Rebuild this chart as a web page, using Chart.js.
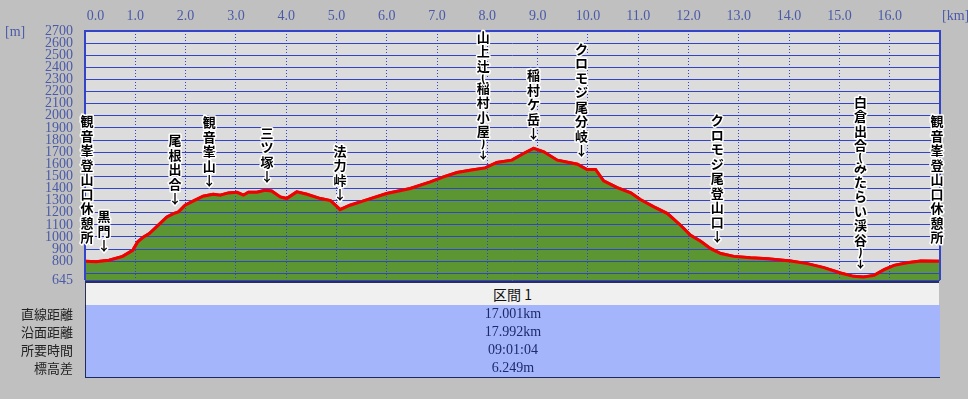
<!DOCTYPE html>
<html>
<head>
<meta charset="utf-8">
<script src="https://cdn.jsdelivr.net/npm/chart.js@4"></script>
<style>
  body { margin: 0; background: #c0c0c0; width: 968px; height: 399px; overflow: hidden; position: relative; }
  #profile { position: absolute; left: 0; top: 0; }
  .unit { position: absolute; font: 14px "Liberation Serif"; color: #4a5aa8; }
  .hdr { position: absolute; left: 85px; top: 281px; width: 853px; height: 22px; background: #f0f0f0;
         border-top: 2px solid #2a3058; border-left: 1px solid #2a3058; border-bottom: 1px solid #8a8a8a;
         text-align: center; font: 14px "Noto Sans CJK JP"; line-height: 22px; color: #111; }
  .rows { position: absolute; left: 85px; top: 305px; width: 854px; height: 72px; background: #a5b5fb;
          border-left: 1px solid #1c2a60; border-bottom: 1px solid #1c2a60; }
  .val { position: absolute; left: 0; width: 100%; text-align: center; font: 14px "Liberation Serif"; color: #1c2a6a; height: 18px; line-height: 18px; }
  .lab { position: absolute; right: 895px; font: 13px "Noto Sans CJK JP"; color: #222; height: 18px; line-height: 18px; text-align: right; }
</style>
</head>
<body>
<canvas id="profile" width="968" height="399"></canvas>
<div class="unit" style="left:5px; top:24px;">[m]</div>
<div class="unit" style="left:942px; top:8px;">[km]</div>
<div class="hdr" id="hdr"></div>
<div class="rows" id="rows"></div>
<div id="labs"></div>
<script>
// 距離 [km] と 標高 [m]
const kmValues = [0.00, 0.22, 0.48, 0.75, 0.95, 1.05, 1.15, 1.28, 1.49, 1.63, 1.76, 1.86, 1.99, 2.16, 2.35, 2.55,
  2.69, 2.85, 3.02, 3.15, 3.25, 3.42, 3.58, 3.71, 3.88, 4.01, 4.21, 4.41, 4.68, 4.88, 5.01, 5.07, 5.27, 5.54,
  6.00, 6.47, 6.87, 7.13, 7.40, 7.66, 7.96, 8.19, 8.49, 8.72, 8.92, 9.12, 9.39, 9.79, 9.98, 10.15, 10.31,
  10.58, 10.85, 11.04, 11.31, 11.58, 11.84, 12.04, 12.24, 12.44, 12.64, 12.90, 13.23, 13.57, 14.03, 14.36,
  14.69, 15.02, 15.28, 15.48, 15.69, 15.89, 16.09, 16.35, 16.62, 17.00];
const elevValues = [800, 796, 808, 840, 890, 960, 995, 1028, 1110, 1165, 1193, 1207, 1262, 1298, 1336, 1353,
  1345, 1364, 1369, 1345, 1369, 1369, 1386, 1380, 1331, 1317, 1372, 1353, 1317, 1300, 1250, 1226, 1262, 1298,
  1359, 1400, 1455, 1496, 1532, 1551, 1570, 1615, 1634, 1689, 1731, 1703, 1634, 1601, 1557, 1557, 1463,
  1408, 1364, 1309, 1248, 1193, 1097, 1014, 965, 904, 863, 840, 829, 821, 802, 780,
  747, 703, 675, 670, 683, 730, 766, 788, 802, 800];

const xTicks = [0, 1, 2, 3, 4, 5, 6, 7, 8, 9, 10, 11, 12, 13, 14, 15, 16];
const yTicks = [645, 700, 800, 900, 1000, 1100, 1200, 1300, 1400, 1500, 1600, 1700, 1800, 1900, 2000,
  2100, 2200, 2300, 2400, 2500, 2600, 2700];

// 地点
const placeNames = ['観音峯登山口休憩所', '黒門', '尾根出合', '観音峯山', '三ツ塚', '法力峠', '山上辻(稲村小屋)',
  '稲村ケ岳', 'クロモジ尾分岐', 'クロモジ尾登山口', '白倉出合(みたらい渓谷)', '観音峯登山口休憩所'];
const placeKm = [0, 0.38, 1.79, 2.47, 3.62, 5.07, 7.92, 8.92, 9.87, 12.57, 15.42, 17.0];
const placeElev = [800, 808, 1196, 1345, 1378, 1230, 1568, 1731, 1593, 880, 670, 800];
const placeArrow = [false, true, true, true, true, true, true, true, true, true, true, false];

// 区間表
const rowLabels = ['直線距離', '沿面距離', '所要時間', '標高差'];
const rowValues = ['17.001km', '17.992km', '09:01:04', '6.249m'];
const sectionTitle = '区間 1';

document.getElementById('hdr').textContent = sectionTitle;
const rows = document.getElementById('rows');
const labs = document.getElementById('labs');
rowLabels.forEach((t, i) => {
  const v = document.createElement('div');
  v.className = 'val';
  v.style.top = (i * 18) + 'px';
  v.textContent = rowValues[i];
  rows.appendChild(v);
  const l = document.createElement('div');
  l.className = 'lab';
  l.style.top = (305 + i * 18) + 'px';
  l.textContent = t;
  labs.appendChild(l);
});

const gridBlue = '#3444c8';
const tickColor = '#4a5aa8';

const profilePlugin = {
  id: 'profilePlugin',
  beforeDraw(chart) {
    const { ctx, chartArea: a } = chart;
    ctx.save();
    ctx.fillStyle = '#dcdcdc';
    ctx.fillRect(a.left, a.top, a.right - a.left, a.bottom - a.top);
    ctx.restore();
  },
  afterDraw(chart) {
    const { ctx, chartArea: a } = chart;
    // 赤線をグリッドの上に再描画
    ctx.save();
    ctx.beginPath();
    ctx.rect(a.left, a.top, a.right - a.left, a.bottom - a.top);
    ctx.clip();
    chart.getDatasetMeta(1).controller.draw();
    ctx.restore();

    // 枠
    ctx.save();
    ctx.strokeStyle = gridBlue;
    ctx.lineWidth = 2;
    ctx.beginPath();
    ctx.moveTo(a.left, a.bottom);
    ctx.lineTo(a.left, a.top);
    ctx.lineTo(a.right, a.top);
    ctx.lineTo(a.right, a.bottom);
    ctx.stroke();
    ctx.restore();

    // 地点名 (縦書き)
    const xs = chart.scales.x, ys = chart.scales.y;
    ctx.save();
    ctx.font = 'bold 13px "Noto Sans CJK JP"';
    ctx.textAlign = 'center';
    ctx.textBaseline = 'middle';
    ctx.lineJoin = 'round';
    placeNames.forEach((name, i) => {
      let x = xs.getPixelForValue(placeKm[i]);
      x = Math.min(Math.max(x, a.left + 2), a.right - 3);
      const yc = ys.getPixelForValue(placeElev[i]);
      const chars = Array.from(name);
      if (placeArrow[i]) chars.push('↓');
      let y = yc - (placeArrow[i] ? 15 : 24);
      for (let j = chars.length - 1; j >= 0; j--) {
        const c = chars[j];
        ctx.strokeStyle = '#ffffff';
        ctx.lineWidth = 3;
        ctx.strokeText(c, x, y);
        ctx.fillStyle = '#000000';
        ctx.fillText(c, x, y);
        const next = chars[j - 1];
        if (c === '(' || c === ')' || next === '(' || next === ')') y -= 11;
        else y -= 14.5;
      }
    });
    ctx.restore();
  }
};

const points = kmValues.map((k, i) => ({ x: k, y: elevValues[i] }));

new Chart(document.getElementById('profile').getContext('2d'), {
  type: 'line',
  data: {
    datasets: [{
      data: points,
      fill: 'start',
      backgroundColor: '#5b9632',
      borderWidth: 0,
      pointRadius: 0,
      tension: 0
    }, {
      data: points,
      fill: false,
      borderColor: '#f00000',
      borderWidth: 3,
      pointRadius: 0,
      tension: 0
    }]
  },
  options: {
    responsive: false,
    animation: false,
    devicePixelRatio: 1,
    layout: { padding: { left: 0, right: 28, top: 0, bottom: 119 } },
    plugins: { legend: { display: false }, tooltip: { enabled: false } },
    scales: {
      x: {
        type: 'linear',
        position: 'top',
        min: 0,
        max: 17,
        afterBuildTicks: s => { s.ticks = xTicks.map(v => ({ value: v })); },
        afterFit: s => { s.height = 31; },
        ticks: {
          autoSkip: false,
          maxRotation: 0,
          padding: 6,
          color: tickColor,
          font: { family: 'Liberation Serif', size: 14 },
          callback: v => (v === 0 ? '\u2007\u2007\u2007' : '') + v.toFixed(1)
        },
        grid: { color: gridBlue, lineWidth: 1, drawTicks: false, z: 1 },
        border: { display: false, dash: [1, 2] }
      },
      y: {
        min: 645,
        max: 2700,
        afterBuildTicks: s => { s.ticks = yTicks.map(v => ({ value: v })); },
        afterFit: s => { s.width = 85; },
        ticks: {
          autoSkip: false,
          padding: 12,
          color: tickColor,
          font: { family: 'Liberation Serif', size: 14 },
          callback: v => (v === 700 ? '' : String(v))
        },
        grid: { color: gridBlue, lineWidth: 1, drawTicks: false, z: 1 },
        border: { display: false }
      }
    }
  },
  plugins: [profilePlugin]
});
</script>
</body>
</html>
